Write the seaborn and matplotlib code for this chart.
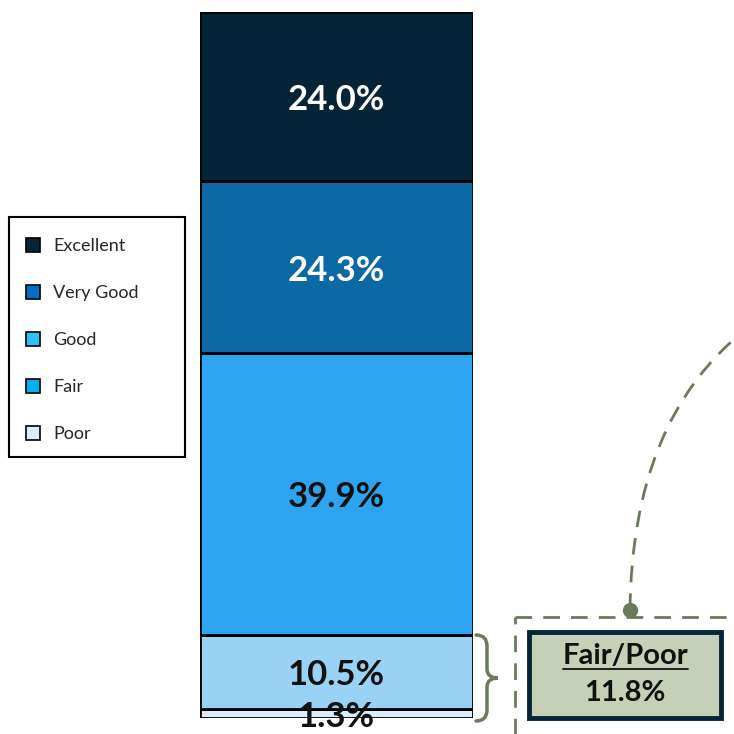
import matplotlib
matplotlib.use("Agg")
import matplotlib.pyplot as plt
import seaborn as sns
import pandas as pd
import numpy as np
from matplotlib.patches import Rectangle, PathPatch
from matplotlib.path import Path
from matplotlib.lines import Line2D

categories = ["Poor", "Fair", "Good", "Very Good", "Excellent"]
values = [1.3, 10.5, 39.9, 24.3, 24.0]
labels = ["1.3%", "10.5%", "39.9%", "24.3%", "24.0%"]
bar_colors = ["#D8ECFA", "#9AD2F5", "#2EA4F0", "#0D69A3", "#062437"]
text_colors = ["#111111", "#111111", "#111111", "white", "white"]
legend_order = ["Excellent", "Very Good", "Good", "Fair", "Poor"]
legend_colors = ["#062437", "#0070C0", "#2EC0F4", "#00B0F0", "#D9EEFB"]
summary_title = "Fair/Poor"
summary_value = "11.8%"

sns.set_theme(style="white")
plt.rcParams['font.family'] = ['Lato', 'DejaVu Sans']

W = H = 734
fig = plt.figure(figsize=(7.34, 7.34), dpi=100)

# main bar axes (pixel box: x 200-473, y 12-718)
ax = fig.add_axes([200 / W, 1 - 718 / H, 273 / W, 706 / H])
bottoms = np.concatenate([[0], np.cumsum(values)[:-1]])
for cat, v, b, c in zip(categories, values, bottoms, bar_colors):
    df = pd.DataFrame({"x": ["All"], "y": [v]})
    sns.barplot(data=df, x="x", y="y", bottom=b, color=c, width=1.0,
                edgecolor="black", linewidth=2, ax=ax, saturation=1)
for v, b, lab, tc in zip(values, bottoms, labels, text_colors):
    ax.annotate(lab, (0, b + v / 2), xytext=(0, -2.5), textcoords="offset points",
                ha="center", va="center", fontsize=25,
                fontweight="bold", color=tc)
ax.set_xlim(-0.5, 0.5)
ax.set_ylim(0, sum(values))
ax.axis("off")

# overlay axes for annotations (pixel coordinates)
ov = fig.add_axes([0, 0, 1, 1], facecolor="none")
ov.set_xlim(0, W)
ov.set_ylim(H, 0)
ov.axis("off")

green = "#6B7A5B"

# legend box
ov.add_patch(Rectangle((9, 217), 176, 240, fill=False, edgecolor="black", lw=1.5))
handles = [Line2D([0], [0], marker="s", linestyle="none", markersize=10,
                  markerfacecolor=c, markeredgecolor="black", markeredgewidth=1.2)
           for c in legend_colors]
leg = fig.legend(handles, legend_order, loc="upper left",
                 bbox_to_anchor=(8 / W, 1 - 222 / H), frameon=False,
                 fontsize=13, labelspacing=1.72, handletextpad=0.6,
                 handlelength=1.0)

# curly brace
x0, ytop, ybot, ymid = 476, 635, 721, 678
xm = x0 + 11
brace = Path([(x0, ytop),
              (xm, ytop), (xm, ytop + 11),
              (xm, ymid - 9),
              (xm, ymid), (xm + 11, ymid),
              (xm, ymid), (xm, ymid + 9),
              (xm, ybot - 11),
              (xm, ybot), (x0, ybot)],
             [Path.MOVETO,
              Path.CURVE3, Path.CURVE3,
              Path.LINETO,
              Path.CURVE3, Path.CURVE3,
              Path.CURVE3, Path.CURVE3,
              Path.LINETO,
              Path.CURVE3, Path.CURVE3])
ov.add_patch(PathPatch(brace, fill=False, edgecolor=green, lw=2.5, capstyle="round"))

# dashed outer box
ov.plot([515, 515], [740, 617], color=green, lw=2, linestyle=(0, (6, 4)))
ov.plot([515, 740], [617, 617], color=green, lw=2, linestyle=(0, (6, 4)))

# summary box
ov.add_patch(Rectangle((529, 632), 192, 86, facecolor="#C5D0B6",
                       edgecolor="#062437", lw=3.5))
ov.text(625, 656, summary_title, ha="center", va="center", fontsize=21,
        fontweight="bold", color="#111111")
ov.plot([563, 688], [669, 669], color="#111111", lw=1.3)
ov.text(625, 693, summary_value, ha="center", va="center", fontsize=21,
        fontweight="bold", color="#111111")

# dashed connector curve with dot
curve = Path([(630, 610), (632, 420), (745, 330)],
             [Path.MOVETO, Path.CURVE3, Path.CURVE3])
ov.add_patch(PathPatch(curve, fill=False, edgecolor=green, lw=2,
                       linestyle=(0, (6, 4))))
ov.plot([630], [610], marker="o", markersize=10, color=green)

fig.savefig("out.png", dpi=100)
